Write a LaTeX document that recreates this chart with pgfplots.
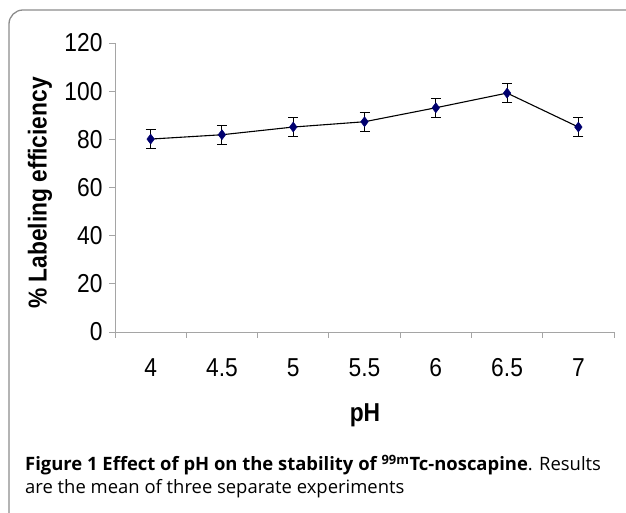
\documentclass[border=0pt]{standalone}
\usepackage{fontspec}
\setmainfont{Liberation Sans}
\newfontfamily\chartfont[FakeStretch=0.88]{Liberation Sans}
\newfontfamily\capfont{Open Sans}
\usepackage{pgfplots}
\pgfplotsset{compat=1.18}
\definecolor{navy}{RGB}{0,0,110}
\definecolor{axgray}{RGB}{165,165,165}
\definecolor{boxgray}{RGB}{140,140,140}
\begin{document}
\begin{tikzpicture}[x=1bp,y=1bp]
\path[use as bounding box] (0,0) rectangle (626,513);
% outer rounded frame
\draw[boxgray, line width=1.3bp, rounded corners=14bp] (9,-20) -- (9,503) -- (660,503);
\begin{axis}[
  at={(115bp,181bp)}, anchor=south west,
  scale only axis, width=499bp, height=289bp,
  xmin=-0.5, xmax=6.5, ymin=0, ymax=120,
  axis x line=bottom, axis y line=left,
  axis line style={axgray, line width=0.9bp, -},
  xtick={0,1,2,3,4,5,6},
  xticklabels={4,4.5,5,5.5,6,6.5,7},
  minor xtick={-0.5,0.5,1.5,2.5,3.5,4.5,5.5,6.5},
  major x tick style={draw=none},
  minor x tick style={axgray, line width=0.9bp},
  ytick={0,20,40,60,80,100,120},
  y tick style={axgray, line width=0.9bp},
  tick align=outside,
  major tick length=6bp, minor tick length=6bp,
  tick label style={font=\chartfont\fontsize{26}{30}\selectfont},
  xticklabel style={yshift=-17bp},
  yticklabel style={xshift=-3bp},
  /pgf/number format/assume math mode=true,
  clip=false,
]
\addplot+[black, line width=1.1bp, mark=diamond*, mark size=5bp,
  mark options={fill=navy, draw=navy, line width=0.5bp},
  error bars/.cd, y dir=both, y explicit,
  error bar style={black, line width=1bp},
  error mark options={black, line width=1bp, mark size=5bp, rotate=90}]
coordinates {
(0,80.1) +- (0,4)
(1,81.9) +- (0,4)
(2,85.1) +- (0,4)
(3,87.3) +- (0,4)
(4,93.1) +- (0,4)
(5,99.2) +- (0,4)
(6,85.1) +- (0,4)
};
\end{axis}
\node[rotate=90, font=\chartfont\bfseries\fontsize{26}{30}\selectfont] at (40,320) {\% Labeling efficiency};
\node[font=\chartfont\bfseries\fontsize{26}{30}\selectfont] at (365,98) {pH};
\node[anchor=base west, inner sep=0, font=\capfont\fontsize{18.5}{22}\selectfont] at (25,42)
  {\textbf{Figure 1 Effect of pH on the stability of \textsuperscript{99m}Tc-noscapine}. Results};
\node[anchor=base west, inner sep=0, font=\capfont\fontsize{18.5}{22}\selectfont] at (25,19)
  {are the mean of three separate experiments};
\end{tikzpicture}
\end{document}
